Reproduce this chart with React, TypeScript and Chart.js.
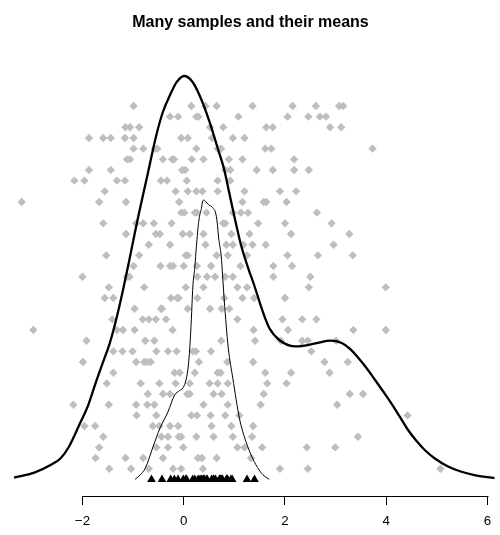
import React, { useEffect, useRef } from 'react';
import { Chart, registerables } from 'chart.js';

Chart.register(...registerables);

const titleText = 'Many samples and their means';

// Each inner list is one sample (row 1 at the bottom, row 35 at the top)
const sampleRows: number[][] = [
  [-1.47, -1.04, -0.69, -0.21, -0.05, 0.38, 1.90, 2.45, 5.07],
  [-1.74, -1.15, -0.80, -0.41, 0.28, 0.36, 0.65, 1.33],
  [-1.67, -0.54, -0.31, -0.01, 1.06, 1.20, 1.55, 2.43, 2.99],
  [-1.59, -0.44, -0.31, -0.10, -0.05, 0.25, 0.59, 0.97, 1.35, 3.44],
  [-1.96, -1.75, -0.61, -0.48, -0.27, -0.11, 0.55, 0.94, 1.37],
  [-0.93, -0.54, 0.15, 0.26, 0.53, 0.82, 1.10, 4.42],
  [-2.18, -1.48, -0.94, -0.72, -0.58, 0.39, 0.87, 1.52, 3.03],
  [-0.71, -0.41, -0.27, 0.07, 0.12, 0.59, 0.75, 1.58, 3.28, 3.54],
  [-1.52, -0.85, -0.48, -0.16, 0.12, 0.51, 0.67, 0.87, 1.65, 2.03],
  [-1.39, -0.18, -0.08, 0.22, 0.67, 0.73, 1.61, 2.12, 2.88],
  [-1.99, -0.94, -0.78, -0.72, -0.65, 0.30, 0.86, 1.37, 2.78, 3.24],
  [-1.39, -1.21, -1.01, -0.54, -0.31, -0.14, 0.18, 0.24, 0.54, 2.52],
  [-1.92, -0.76, -0.58, 0.74, 1.41, 1.92, 2.34, 2.45, 3.01],
  [-2.97, -1.32, -1.20, -0.97, -0.22, 1.38, 2.06, 3.35, 3.99],
  [-1.41, -0.81, -0.69, -0.55, -0.35, 1.06, 1.95, 2.34, 2.62],
  [-0.97, -0.45, -0.43, 0.08, 0.52, 0.75, 0.90],
  [-1.56, -1.39, -0.25, -0.13, -0.10, 0.27, 0.80, 1.16, 1.39, 2.00],
  [-1.48, -0.78, 0.04, 0.39, 1.06, 1.25, 2.47, 3.99],
  [-2.00, -1.12, -1.07, 0.27, 0.46, 0.62, 0.82, 0.97, 1.77, 2.50],
  [-0.99, -0.46, -0.27, -0.21, 0.00, 0.26, 0.54, 1.12, 1.77, 2.14],
  [-1.53, -0.88, 0.04, 0.08, 0.65, 0.87, 1.25, 2.05, 2.65, 3.34],
  [-0.69, -0.27, 0.43, 0.84, 0.97, 1.18, 1.36, 1.62, 2.96],
  [-1.14, -0.55, -0.47, -0.02, 0.12, 0.39, 0.94, 1.30, 2.12, 3.27],
  [-1.59, -0.94, -0.80, -0.59, -0.24, 0.78, 0.82, 1.47, 2.00, 2.92],
  [-0.05, 0.01, 0.22, 0.26, 0.45, 0.97, 1.13, 1.27, 2.63],
  [-3.20, -1.67, -1.14, -0.09, 1.16, 1.58, 1.63, 2.03],
  [-1.56, -0.16, 0.08, 0.25, 0.37, 0.67, 1.20, 1.90, 2.22],
  [-2.16, -1.96, -1.32, -1.16, -0.45, -0.33, 0.06, 0.67, 0.92],
  [-1.87, -1.44, -0.03, 0.03, 0.82, 0.92, 1.44, 1.76, 2.18, 2.47],
  [-1.12, -1.06, -0.41, -0.23, -0.19, 0.16, 0.39, 0.89, 1.16, 2.18],
  [-0.99, -0.80, -0.57, -0.52, 0.25, 0.67, 0.74, 1.61, 1.73, 3.73],
  [-1.87, -1.59, -1.44, -1.16, -0.99, -0.05, 0.08, 0.56, 0.97, 1.20],
  [-1.15, -1.06, -0.88, 0.52, 0.78, 1.63, 1.76, 2.89, 3.11],
  [-0.27, -0.11, 0.25, 0.29, 1.08, 2.05, 2.46, 2.69, 2.81],
  [-0.99, 0.15, 0.43, 0.65, 1.36, 2.15, 2.61, 3.07, 3.15],
];

// Density of all sample values (thick curve), in the plot's row units
const allDensityX = [
  -3.35, -2.95, -2.63, -2.43, -2.27, -2.07, -1.88, -1.74, -1.59, -1.46, -1.32, -1.19,
  -1.09, -0.99, -0.90, -0.73, -0.54, -0.41, -0.27, -0.14, 0.01, 0.16, 0.31, 0.51,
  0.67, 0.80, 0.90, 0.99, 1.13, 1.26, 1.41, 1.55, 1.69, 1.90, 2.22, 2.47, 2.67,
  2.90, 3.12, 3.29, 3.45, 3.61, 3.78, 3.94, 4.10, 4.27, 4.43, 4.59, 4.76, 4.96,
  5.22, 5.47, 5.74, 6.00, 6.20, 6.59,
];
const allDensityY = [
  0.16, 0.63, 1.35, 1.98, 3.04, 5.03, 7.04, 9.03, 11.03, 12.78, 15.25, 17.94,
  20.19, 22.53, 24.59, 28.22, 32.28, 34.46, 36.03, 37.24, 37.81, 37.34, 36.03, 33.52,
  31.06, 29.03, 26.84, 24.87, 22.0, 20.0, 17.94, 15.88, 14.19, 13.02, 12.46, 12.60, 12.83,
  13.0, 12.78, 12.22, 11.38, 10.44, 9.32, 8.24, 7.13, 5.85, 4.63, 3.65, 2.76, 1.96,
  1.21, 0.74, 0.41, 0.21, 0.10, 0.04,
];

// Density of the sample means (thin curve)
const meanDensityX = [
  -0.96, -0.86, -0.76, -0.60, -0.47, -0.31, -0.18, -0.08, -0.01, 0.05, 0.09, 0.12,
  0.15, 0.18, 0.22, 0.25, 0.30, 0.35, 0.37, 0.40, 0.44, 0.49, 0.57, 0.63, 0.66,
  0.69, 0.74, 0.80, 0.88, 0.97, 1.10, 1.23, 1.36, 1.49, 1.59, 1.69,
];
const meanDensityY = [
  0.01, 0.41, 1.04, 3.13, 4.79, 6.34, 7.91, 8.33, 8.61, 9.41, 10.63, 12.32,
  14.94, 18.03, 19.93, 21.81, 24.31, 25.41, 26.0, 26.19, 26.0, 25.76, 25.48, 24.97, 24.12,
  22.62, 20.94, 16.81, 12.32, 9.48, 5.73, 3.53, 1.98, 0.88, 0.32, 0.01,
];

const xTicks = [-2, 0, 2, 4, 6];
const xTickLabels = ['\u22122', '0', '2', '4', '6'];

const FONT = '"Liberation Sans", Arial, Helvetica, sans-serif';

export default function App() {
  const ref = useRef<HTMLCanvasElement>(null);

  useEffect(() => {
    if (!ref.current) return;
    const points = sampleRows.flatMap((row, i) => row.map((x) => ({ x, y: i + 1 })));
    const means = sampleRows.map((row) => ({
      x: row.reduce((a, b) => a + b, 0) / row.length,
      y: 0,
    }));
    const thick = allDensityX.map((x, i) => ({ x, y: allDensityY[i] }));
    const thin = meanDensityX.map((x, i) => ({ x, y: meanDensityY[i] }));

    const axisLine = {
      id: 'axisLine',
      afterDraw(chart: any) {
        const { ctx, chartArea, scales } = chart;
        const xs = scales.x;
        const y = Math.round(chartArea.bottom) + 0.5;
        ctx.save();
        ctx.strokeStyle = '#000';
        ctx.lineWidth = 1;
        ctx.beginPath();
        ctx.moveTo(Math.round(xs.getPixelForValue(xTicks[0])) + 0.5, y);
        ctx.lineTo(Math.round(xs.getPixelForValue(xTicks[xTicks.length - 1])) + 0.5, y);
        ctx.stroke();
        ctx.restore();
      },
    };

    const chart = new Chart(ref.current, {
      type: 'scatter',
      data: {
        datasets: [
          {
            label: 'means',
            data: means,
            pointStyle: 'triangle',
            pointRadius: 5,
            backgroundColor: '#000',
            borderColor: '#000',
            borderWidth: 0,
            order: 1,
          },
          {
            label: 'density of means',
            data: thin,
            showLine: true,
            pointRadius: 0,
            borderColor: '#000',
            borderWidth: 1,
            cubicInterpolationMode: 'monotone',
            order: 2,
          },
          {
            label: 'density of samples',
            data: thick,
            showLine: true,
            pointRadius: 0,
            borderColor: '#000',
            borderWidth: 2.3,
            cubicInterpolationMode: 'monotone',
            order: 3,
          },
          {
            label: 'samples',
            data: points,
            pointStyle: 'rectRot',
            pointRadius: 4.2,
            backgroundColor: '#bebebe',
            borderWidth: 0,
            order: 4,
          },
        ],
      },
      options: {
        responsive: false,
        animation: false,
        layout: { padding: { left: 4, right: 3, top: 0, bottom: 0 } },
        plugins: {
          legend: { display: false },
          tooltip: { enabled: false },
          title: {
            display: true,
            text: titleText,
            color: '#000',
            font: { family: FONT, size: 16, weight: 'bold', lineHeight: 1.2 },
            padding: { top: 13.2, bottom: 27.6 },
          },
        },
        scales: {
          x: {
            type: 'linear',
            min: (4 - 184) / 51,
            max: (497 - 184) / 51,
            afterBuildTicks: (s: any) => {
              s.ticks = xTicks.map((v) => ({ value: v }));
            },
            afterFit: (s: any) => {
              s.height = 39;
            },
            ticks: {
              callback: (v: any) => xTickLabels[xTicks.indexOf(Number(v))],
              color: '#000',
              font: { family: FONT, size: 13.3 },
              padding: 8.7,
              maxRotation: 0,
              autoSkip: false,
            },
            grid: {
              display: true,
              drawOnChartArea: false,
              drawTicks: true,
              tickLength: 9,
              color: '#000',
              lineWidth: 1,
            },
            border: { display: false },
          },
          y: {
            type: 'linear',
            display: false,
            min: -1.556,
            max: 39.31,
          },
        },
      },
      plugins: [axisLine],
    } as any);

    return () => chart.destroy();
  }, []);

  return (
    <div style={{ position: 'absolute', left: 0, top: 0, width: 500, height: 535 }}>
      <canvas ref={ref} width={500} height={535} />
    </div>
  );
}
